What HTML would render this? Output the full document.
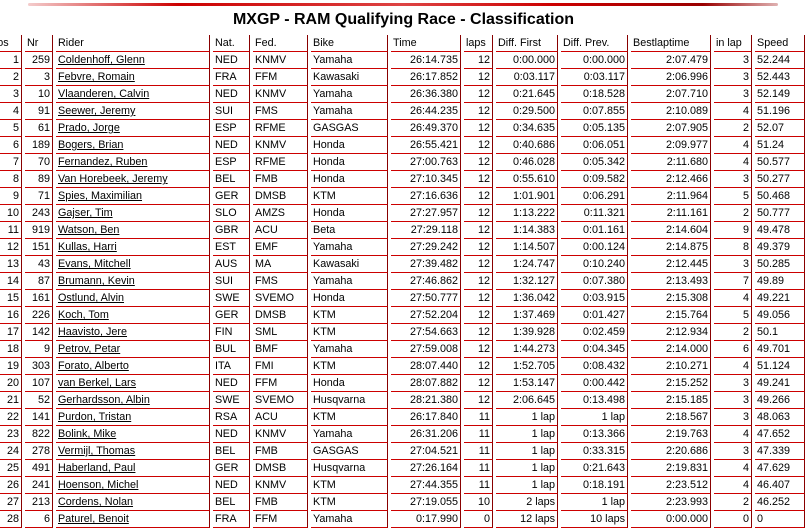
<!DOCTYPE html>
<html><head><meta charset="utf-8"><style>
html,body{margin:0;padding:0;background:#fff;width:807px;height:531px;overflow:hidden;position:relative;font-family:"Liberation Sans",Arial,sans-serif;}
.bar{position:absolute;top:3px;left:28px;width:750px;height:3px;background:linear-gradient(90deg,rgba(200,0,0,0.2),#c00 20%,#d44 50%,#c00 70%,#900 90%,rgba(150,0,0,0.3));border-radius:2px;}
h1{position:absolute;top:11px;left:0;width:807px;text-align:center;margin:0;font-size:16px;font-weight:bold;color:#000;}
table{position:absolute;top:35px;left:-15px;width:819px;border-collapse:separate;border-spacing:3px 0;table-layout:fixed;font-size:10.8px;}
td{padding:0 2px;border-bottom:1px solid #c00;border-right:1px solid #800;white-space:nowrap;overflow:hidden;line-height:16px;box-sizing:border-box;height:17px;}
td.r{text-align:right;}
td u{text-decoration:underline;}
</style></head><body>
<div class="bar"></div>
<h1>MXGP - RAM Qualifying Race - Classification</h1>
<table>
<colgroup><col style="width:34px"><col style="width:28px"><col style="width:154px"><col style="width:37px"><col style="width:55px"><col style="width:77px"><col style="width:70px"><col style="width:29px"><col style="width:62px"><col style="width:67px"><col style="width:80px"><col style="width:38px"><col style="width:50px"></colgroup>
<tr><td>Pos</td><td>Nr</td><td>Rider</td><td>Nat.</td><td>Fed.</td><td>Bike</td><td>Time</td><td>laps</td><td>Diff. First</td><td>Diff. Prev.</td><td>Bestlaptime</td><td>in lap</td><td>Speed</td></tr>
<tr><td class="r">1</td><td class="r">259</td><td><u>Coldenhoff, Glenn</u></td><td>NED</td><td>KNMV</td><td>Yamaha</td><td class="r">26:14.735</td><td class="r">12</td><td class="r">0:00.000</td><td class="r">0:00.000</td><td class="r">2:07.479</td><td class="r">3</td><td>52.244</td></tr>
<tr><td class="r">2</td><td class="r">3</td><td><u>Febvre, Romain</u></td><td>FRA</td><td>FFM</td><td>Kawasaki</td><td class="r">26:17.852</td><td class="r">12</td><td class="r">0:03.117</td><td class="r">0:03.117</td><td class="r">2:06.996</td><td class="r">3</td><td>52.443</td></tr>
<tr><td class="r">3</td><td class="r">10</td><td><u>Vlaanderen, Calvin</u></td><td>NED</td><td>KNMV</td><td>Yamaha</td><td class="r">26:36.380</td><td class="r">12</td><td class="r">0:21.645</td><td class="r">0:18.528</td><td class="r">2:07.710</td><td class="r">3</td><td>52.149</td></tr>
<tr><td class="r">4</td><td class="r">91</td><td><u>Seewer, Jeremy</u></td><td>SUI</td><td>FMS</td><td>Yamaha</td><td class="r">26:44.235</td><td class="r">12</td><td class="r">0:29.500</td><td class="r">0:07.855</td><td class="r">2:10.089</td><td class="r">4</td><td>51.196</td></tr>
<tr><td class="r">5</td><td class="r">61</td><td><u>Prado, Jorge</u></td><td>ESP</td><td>RFME</td><td>GASGAS</td><td class="r">26:49.370</td><td class="r">12</td><td class="r">0:34.635</td><td class="r">0:05.135</td><td class="r">2:07.905</td><td class="r">2</td><td>52.07</td></tr>
<tr><td class="r">6</td><td class="r">189</td><td><u>Bogers, Brian</u></td><td>NED</td><td>KNMV</td><td>Honda</td><td class="r">26:55.421</td><td class="r">12</td><td class="r">0:40.686</td><td class="r">0:06.051</td><td class="r">2:09.977</td><td class="r">4</td><td>51.24</td></tr>
<tr><td class="r">7</td><td class="r">70</td><td><u>Fernandez, Ruben</u></td><td>ESP</td><td>RFME</td><td>Honda</td><td class="r">27:00.763</td><td class="r">12</td><td class="r">0:46.028</td><td class="r">0:05.342</td><td class="r">2:11.680</td><td class="r">4</td><td>50.577</td></tr>
<tr><td class="r">8</td><td class="r">89</td><td><u>Van Horebeek, Jeremy</u></td><td>BEL</td><td>FMB</td><td>Honda</td><td class="r">27:10.345</td><td class="r">12</td><td class="r">0:55.610</td><td class="r">0:09.582</td><td class="r">2:12.466</td><td class="r">3</td><td>50.277</td></tr>
<tr><td class="r">9</td><td class="r">71</td><td><u>Spies, Maximilian</u></td><td>GER</td><td>DMSB</td><td>KTM</td><td class="r">27:16.636</td><td class="r">12</td><td class="r">1:01.901</td><td class="r">0:06.291</td><td class="r">2:11.964</td><td class="r">5</td><td>50.468</td></tr>
<tr><td class="r">10</td><td class="r">243</td><td><u>Gajser, Tim</u></td><td>SLO</td><td>AMZS</td><td>Honda</td><td class="r">27:27.957</td><td class="r">12</td><td class="r">1:13.222</td><td class="r">0:11.321</td><td class="r">2:11.161</td><td class="r">2</td><td>50.777</td></tr>
<tr><td class="r">11</td><td class="r">919</td><td><u>Watson, Ben</u></td><td>GBR</td><td>ACU</td><td>Beta</td><td class="r">27:29.118</td><td class="r">12</td><td class="r">1:14.383</td><td class="r">0:01.161</td><td class="r">2:14.604</td><td class="r">9</td><td>49.478</td></tr>
<tr><td class="r">12</td><td class="r">151</td><td><u>Kullas, Harri</u></td><td>EST</td><td>EMF</td><td>Yamaha</td><td class="r">27:29.242</td><td class="r">12</td><td class="r">1:14.507</td><td class="r">0:00.124</td><td class="r">2:14.875</td><td class="r">8</td><td>49.379</td></tr>
<tr><td class="r">13</td><td class="r">43</td><td><u>Evans, Mitchell</u></td><td>AUS</td><td>MA</td><td>Kawasaki</td><td class="r">27:39.482</td><td class="r">12</td><td class="r">1:24.747</td><td class="r">0:10.240</td><td class="r">2:12.445</td><td class="r">3</td><td>50.285</td></tr>
<tr><td class="r">14</td><td class="r">87</td><td><u>Brumann, Kevin</u></td><td>SUI</td><td>FMS</td><td>Yamaha</td><td class="r">27:46.862</td><td class="r">12</td><td class="r">1:32.127</td><td class="r">0:07.380</td><td class="r">2:13.493</td><td class="r">7</td><td>49.89</td></tr>
<tr><td class="r">15</td><td class="r">161</td><td><u>Ostlund, Alvin</u></td><td>SWE</td><td>SVEMO</td><td>Honda</td><td class="r">27:50.777</td><td class="r">12</td><td class="r">1:36.042</td><td class="r">0:03.915</td><td class="r">2:15.308</td><td class="r">4</td><td>49.221</td></tr>
<tr><td class="r">16</td><td class="r">226</td><td><u>Koch, Tom</u></td><td>GER</td><td>DMSB</td><td>KTM</td><td class="r">27:52.204</td><td class="r">12</td><td class="r">1:37.469</td><td class="r">0:01.427</td><td class="r">2:15.764</td><td class="r">5</td><td>49.056</td></tr>
<tr><td class="r">17</td><td class="r">142</td><td><u>Haavisto, Jere</u></td><td>FIN</td><td>SML</td><td>KTM</td><td class="r">27:54.663</td><td class="r">12</td><td class="r">1:39.928</td><td class="r">0:02.459</td><td class="r">2:12.934</td><td class="r">2</td><td>50.1</td></tr>
<tr><td class="r">18</td><td class="r">9</td><td><u>Petrov, Petar</u></td><td>BUL</td><td>BMF</td><td>Yamaha</td><td class="r">27:59.008</td><td class="r">12</td><td class="r">1:44.273</td><td class="r">0:04.345</td><td class="r">2:14.000</td><td class="r">6</td><td>49.701</td></tr>
<tr><td class="r">19</td><td class="r">303</td><td><u>Forato, Alberto</u></td><td>ITA</td><td>FMI</td><td>KTM</td><td class="r">28:07.440</td><td class="r">12</td><td class="r">1:52.705</td><td class="r">0:08.432</td><td class="r">2:10.271</td><td class="r">4</td><td>51.124</td></tr>
<tr><td class="r">20</td><td class="r">107</td><td><u>van Berkel, Lars</u></td><td>NED</td><td>FFM</td><td>Honda</td><td class="r">28:07.882</td><td class="r">12</td><td class="r">1:53.147</td><td class="r">0:00.442</td><td class="r">2:15.252</td><td class="r">3</td><td>49.241</td></tr>
<tr><td class="r">21</td><td class="r">52</td><td><u>Gerhardsson, Albin</u></td><td>SWE</td><td>SVEMO</td><td>Husqvarna</td><td class="r">28:21.380</td><td class="r">12</td><td class="r">2:06.645</td><td class="r">0:13.498</td><td class="r">2:15.185</td><td class="r">3</td><td>49.266</td></tr>
<tr><td class="r">22</td><td class="r">141</td><td><u>Purdon, Tristan</u></td><td>RSA</td><td>ACU</td><td>KTM</td><td class="r">26:17.840</td><td class="r">11</td><td class="r">1 lap</td><td class="r">1 lap</td><td class="r">2:18.567</td><td class="r">3</td><td>48.063</td></tr>
<tr><td class="r">23</td><td class="r">822</td><td><u>Bolink, Mike</u></td><td>NED</td><td>KNMV</td><td>Yamaha</td><td class="r">26:31.206</td><td class="r">11</td><td class="r">1 lap</td><td class="r">0:13.366</td><td class="r">2:19.763</td><td class="r">4</td><td>47.652</td></tr>
<tr><td class="r">24</td><td class="r">278</td><td><u>Vermijl, Thomas</u></td><td>BEL</td><td>FMB</td><td>GASGAS</td><td class="r">27:04.521</td><td class="r">11</td><td class="r">1 lap</td><td class="r">0:33.315</td><td class="r">2:20.686</td><td class="r">3</td><td>47.339</td></tr>
<tr><td class="r">25</td><td class="r">491</td><td><u>Haberland, Paul</u></td><td>GER</td><td>DMSB</td><td>Husqvarna</td><td class="r">27:26.164</td><td class="r">11</td><td class="r">1 lap</td><td class="r">0:21.643</td><td class="r">2:19.831</td><td class="r">4</td><td>47.629</td></tr>
<tr><td class="r">26</td><td class="r">241</td><td><u>Hoenson, Michel</u></td><td>NED</td><td>KNMV</td><td>KTM</td><td class="r">27:44.355</td><td class="r">11</td><td class="r">1 lap</td><td class="r">0:18.191</td><td class="r">2:23.512</td><td class="r">4</td><td>46.407</td></tr>
<tr><td class="r">27</td><td class="r">213</td><td><u>Cordens, Nolan</u></td><td>BEL</td><td>FMB</td><td>KTM</td><td class="r">27:19.055</td><td class="r">10</td><td class="r">2 laps</td><td class="r">1 lap</td><td class="r">2:23.993</td><td class="r">2</td><td>46.252</td></tr>
<tr><td class="r">28</td><td class="r">6</td><td><u>Paturel, Benoit</u></td><td>FRA</td><td>FFM</td><td>Yamaha</td><td class="r">0:17.990</td><td class="r">0</td><td class="r">12 laps</td><td class="r">10 laps</td><td class="r">0:00.000</td><td class="r">0</td><td>0</td></tr>
</table>
</body></html>
